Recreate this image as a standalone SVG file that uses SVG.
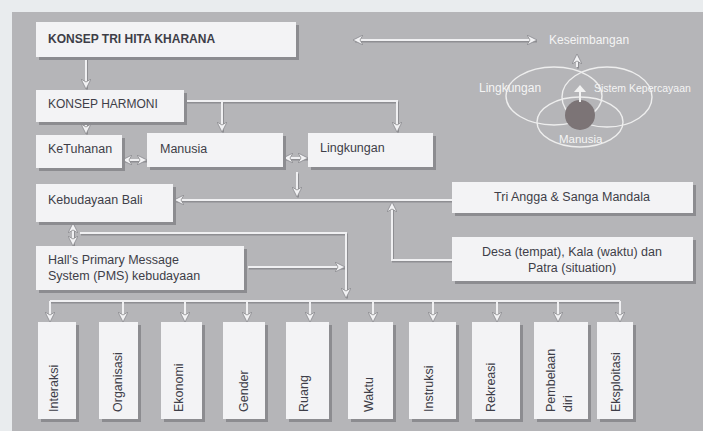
<svg xmlns="http://www.w3.org/2000/svg" width="703" height="431" viewBox="0 0 703 431">
<defs>
<style>
.bg{fill:#b5b5b8}
.box{fill:#f3f3f5}
.sh{fill:#8c8c90}
.t{font-family:"Liberation Sans",Arial,sans-serif;font-size:12.5px;fill:#3e3e48}
.tb{font-weight:bold;font-size:12px}
.w{font-family:"Liberation Sans",Arial,sans-serif;font-size:11.5px;fill:#f4f4f4}
.ln{fill:none;stroke:#f0f0f2;stroke-width:2}
.lsh{fill:none;stroke:#8e8e92;stroke-width:2}
.ven{fill:none;stroke:#eeeeee;stroke-width:1.4}
</style>
<marker id="ah" viewBox="0 0 10 10" refX="9" refY="5" markerWidth="10" markerHeight="10" markerUnits="userSpaceOnUse" orient="auto-start-reverse">
<path d="M0,0 L10,5 L0,10 L3,5 z" fill="#f2f2f4" stroke="#8a8a8e" stroke-width="0.8"/>
</marker>
</defs>
<rect x="0" y="0" width="703" height="431" fill="#e9ecee"/>
<rect class="bg" x="12" y="12" width="691" height="419"/>

<g id="connectors">
<g transform="translate(1,1.5)">
<path class="lsh" d="M86,57 V88 M86,122 V133 M184,101 H397 V131 M222,101 V131 M123,160 H146 M284,158 H307 M297,172 V196 M452,200 H175 M452,260 H392 V203 M73,224 V245 M80,233 H346 V297 M248,267 H344 M50,301 H620 M354,40 H536 M577,67 V55"/>
</g>
<path class="ln" d="M86,57 V88" marker-end="url(#ah)"/>
<path class="ln" d="M86,122 V133" marker-end="url(#ah)"/>
<path class="ln" d="M184,101 H397 V131" marker-end="url(#ah)"/>
<path class="ln" d="M222,101 V131" marker-end="url(#ah)"/>
<path class="ln" d="M123,160 H146" marker-start="url(#ah)" marker-end="url(#ah)"/>
<path class="ln" d="M284,158 H307" marker-start="url(#ah)" marker-end="url(#ah)"/>
<path class="ln" d="M297,172 V196" marker-end="url(#ah)"/>
<path class="ln" d="M452,200 H175" marker-end="url(#ah)"/>
<path class="ln" d="M452,260 H392 V203" marker-end="url(#ah)"/>
<path class="ln" d="M73,224 V245" marker-start="url(#ah)" marker-end="url(#ah)"/>
<path class="ln" d="M80,233 H346 V297" marker-end="url(#ah)"/>
<path class="ln" d="M248,267 H344" marker-end="url(#ah)"/>
<path class="ln" d="M50,301 H620"/>
<path class="ln" d="M50,301 V321" marker-end="url(#ah)"/>
<path class="ln" d="M123,301 V321" marker-end="url(#ah)"/>
<path class="ln" d="M185,301 V321" marker-end="url(#ah)"/>
<path class="ln" d="M247,301 V321" marker-end="url(#ah)"/>
<path class="ln" d="M310,301 V321" marker-end="url(#ah)"/>
<path class="ln" d="M373,301 V321" marker-end="url(#ah)"/>
<path class="ln" d="M433,301 V321" marker-end="url(#ah)"/>
<path class="ln" d="M497,301 V321" marker-end="url(#ah)"/>
<path class="ln" d="M558,301 V321" marker-end="url(#ah)"/>
<path class="ln" d="M620,301 V321" marker-end="url(#ah)"/>
<path class="ln" d="M354,40 H536" marker-start="url(#ah)" marker-end="url(#ah)"/>
<path class="ln" d="M577,67 V55" marker-end="url(#ah)"/>
</g>

<g id="n-tri-hita">
<rect class="sh" x="39" y="25" width="260" height="35"/>
<rect class="box" x="36" y="22" width="260" height="35"/>
<text class="t tb" x="48" y="43">KONSEP TRI HITA KHARANA</text>
</g>
<g id="n-harmoni">
<rect class="sh" x="39" y="93" width="148" height="32"/>
<rect class="box" x="36" y="90" width="148" height="32"/>
<text class="t" x="48" y="108" style="font-size:12px">KONSEP HARMONI</text>
</g>
<g id="n-ketuhanan">
<rect class="sh" x="39" y="138" width="86" height="33"/>
<rect class="box" x="36" y="135" width="86" height="33"/>
<text class="t" x="48" y="153">KeTuhanan</text>
</g>
<g id="n-manusia">
<rect class="sh" x="150" y="136" width="136" height="34"/>
<rect class="box" x="147" y="133" width="136" height="34"/>
<text class="t" x="160" y="153">Manusia</text>
</g>
<g id="n-lingkungan">
<rect class="sh" x="311" y="136" width="125" height="34"/>
<rect class="box" x="308" y="133" width="125" height="34"/>
<text class="t" x="320" y="152">Lingkungan</text>
</g>
<g id="n-kebudayaan">
<rect class="sh" x="39" y="187" width="137" height="38"/>
<rect class="box" x="36" y="184" width="137" height="38"/>
<text class="t" x="48" y="204">Kebudayaan Bali</text>
</g>
<g id="n-halls">
<rect class="sh" x="39" y="249" width="208" height="44"/>
<rect class="box" x="36" y="246" width="208" height="44"/>
<text class="t" x="48" y="264">Hall's Primary Message</text>
<text class="t" x="48" y="280">System (PMS) kebudayaan</text>
</g>
<g id="n-triangga">
<rect class="sh" x="455" y="185" width="241" height="31"/>
<rect class="box" x="452" y="182" width="241" height="31"/>
<text class="t" x="572" y="201" text-anchor="middle">Tri Angga &amp; Sanga Mandala</text>
</g>
<g id="n-desa">
<rect class="sh" x="455" y="240" width="241" height="44"/>
<rect class="box" x="452" y="237" width="241" height="44"/>
<text class="t" x="572" y="256" text-anchor="middle">Desa (tempat), Kala (waktu) dan</text>
<text class="t" x="572" y="272" text-anchor="middle">Patra (situation)</text>
</g>

<g id="n-venn">
<ellipse class="ven" cx="554" cy="96" rx="48" ry="29"/>
<ellipse class="ven" cx="607" cy="97" rx="45" ry="30"/>
<ellipse class="ven" cx="580" cy="122" rx="43" ry="25"/>
<ellipse cx="580" cy="115" rx="15" ry="15" fill="#7c7476"/>
<path d="M580,102 V88" stroke="#f2f2f2" stroke-width="2"/>
<path d="M574,92 L580,85 L586,92 z" fill="#f2f2f2"/>
<text class="w" x="549" y="44" style="font-size:12px">Keseimbangan</text>
<text class="w" x="479" y="92" style="font-size:12px">Lingkungan</text>
<text class="w" x="594" y="92" style="font-size:10.5px">Sistem Kepercayaan</text>
<text class="w" x="559" y="143">Manusia</text>
</g>

<g id="n-interaksi">
<rect class="sh" x="41" y="325" width="38" height="97"/>
<rect class="box" x="38" y="322" width="38" height="97"/>
<text class="t" transform="translate(58,412) rotate(-90)">Interaksi</text>
</g>
<g id="n-organisasi">
<rect class="sh" x="102" y="325" width="39" height="97"/>
<rect class="box" x="99" y="322" width="39" height="97"/>
<text class="t" transform="translate(122,412) rotate(-90)">Organisasi</text>
</g>
<g id="n-ekonomi">
<rect class="sh" x="164" y="325" width="41" height="97"/>
<rect class="box" x="161" y="322" width="41" height="97"/>
<text class="t" transform="translate(183,412) rotate(-90)">Ekonomi</text>
</g>
<g id="n-gender">
<rect class="sh" x="226" y="325" width="42" height="97"/>
<rect class="box" x="223" y="322" width="42" height="97"/>
<text class="t" transform="translate(248,412) rotate(-90)">Gender</text>
</g>
<g id="n-ruang">
<rect class="sh" x="289" y="325" width="43" height="97"/>
<rect class="box" x="286" y="322" width="43" height="97"/>
<text class="t" transform="translate(308,412) rotate(-90)">Ruang</text>
</g>
<g id="n-waktu">
<rect class="sh" x="351" y="325" width="45" height="97"/>
<rect class="box" x="348" y="322" width="45" height="97"/>
<text class="t" transform="translate(373,412) rotate(-90)">Waktu</text>
</g>
<g id="n-instruksi">
<rect class="sh" x="412" y="325" width="47" height="97"/>
<rect class="box" x="409" y="322" width="47" height="97"/>
<text class="t" transform="translate(433,412) rotate(-90)">Instruksi</text>
</g>
<g id="n-rekreasi">
<rect class="sh" x="475" y="325" width="48" height="97"/>
<rect class="box" x="472" y="322" width="48" height="97"/>
<text class="t" transform="translate(495,412) rotate(-90)">Rekreasi</text>
</g>
<g id="n-pembelaan">
<rect class="sh" x="537" y="325" width="54" height="97"/>
<rect class="box" x="534" y="322" width="54" height="97"/>
<text class="t" transform="translate(555,412) rotate(-90)">Pembelaan</text>
<text class="t" transform="translate(572,412) rotate(-90)">diri</text>
</g>
<g id="n-eksploitasi">
<rect class="sh" x="600" y="325" width="36" height="97"/>
<rect class="box" x="597" y="322" width="36" height="97"/>
<text class="t" transform="translate(620,412) rotate(-90)">Eksploitasi</text>
</g>
</svg>
